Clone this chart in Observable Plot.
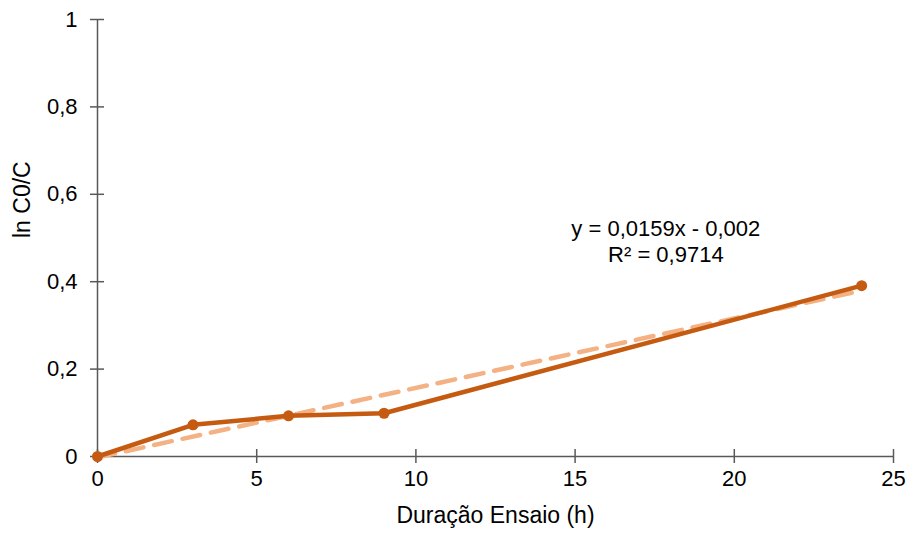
<!DOCTYPE html>
<html>
<head>
<meta charset="utf-8">
<script src="https://cdn.jsdelivr.net/npm/d3@7"></script>
<script src="https://cdn.jsdelivr.net/npm/@observablehq/plot@0.6"></script>
<style>
  html, body { margin: 0; padding: 0; background: #fff; }
  #chart { width: 915px; height: 538px; }
</style>
</head>
<body>
<div id="chart"></div>
<script>
const hours = [0, 3, 6, 9, 24];
const lnC0C = [0, 0.0726, 0.093, 0.099, 0.391];
const xTicks = [0, 5, 10, 15, 20, 25];
const yTicks = [0, 0.2, 0.4, 0.6, 0.8, 1];
const slope = 0.0159, intercept = -0.002;
const eqLines = ["y = 0,0159x - 0,002", "R² = 0,9714"];
const eqAnchor = [{x: 17.85, y: 0.494}];

const data = hours.map((h, i) => ({x: h, y: lnC0C[i]}));
const trend = [hours[0], hours[hours.length - 1]].map(x => ({x, y: slope * x + intercept}));
const fmt = d => String(d).replace(".", ",");
const axisColor = "#595959";
const font = "Liberation Sans, Arial, sans-serif";

const chart = Plot.plot({
  width: 915,
  height: 538,
  marginLeft: 97,
  marginRight: 22,
  marginTop: 19,
  marginBottom: 82,
  style: {fontFamily: font, fontSize: "22px", color: "#000", background: "#fff"},
  x: {domain: [0, 25], ticks: xTicks},
  y: {domain: [0, 1], ticks: yTicks},
  marks: [
    Plot.ruleX([0], {stroke: axisColor, strokeWidth: 1.5}),
    Plot.ruleY([0], {stroke: axisColor, strokeWidth: 1.5}),
    Plot.axisX({ticks: xTicks, tickFormat: fmt, tickSize: 7, tickPadding: 7, stroke: axisColor, fill: "#000", fontSize: 22, label: null}),
    Plot.axisY({ticks: yTicks, tickFormat: fmt, tickSize: 7, tickPadding: 13, stroke: axisColor, fill: "#000", fontSize: 22, label: null}),
    Plot.line(trend, {x: "x", y: "y", stroke: "#F4B183", strokeWidth: 4.5, strokeDasharray: "18,11"}),
    Plot.line(data, {x: "x", y: "y", stroke: "#C55A11", strokeWidth: 4.5}),
    Plot.dot(data, {x: "x", y: "y", r: 5.5, fill: "#C55A11", stroke: "none"}),
    Plot.text(eqAnchor, {x: "x", y: "y", text: () => eqLines.join("\n"), fontSize: 22, fill: "#000", lineHeight: 1.18}),
    Plot.text(["Duração Ensaio (h)"], {frameAnchor: "bottom", dy: 66, fontSize: 23, fill: "#000"}),
    Plot.text(["ln C0/C"], {frameAnchor: "left", dx: -75, rotate: -90, fontSize: 23, fill: "#000"})
  ]
});

// make tick marks cross the axis lines
const svg = d3.select(chart);
svg.selectAll('g[aria-label="x-axis tick"] path').attr("d", "M0,-7L0,7").attr("stroke-width", 1.5);
svg.selectAll('g[aria-label="y-axis tick"] path').attr("d", "M-7,0L7,0").attr("stroke-width", 1.5);

document.getElementById("chart").appendChild(chart);
</script>
</body>
</html>
